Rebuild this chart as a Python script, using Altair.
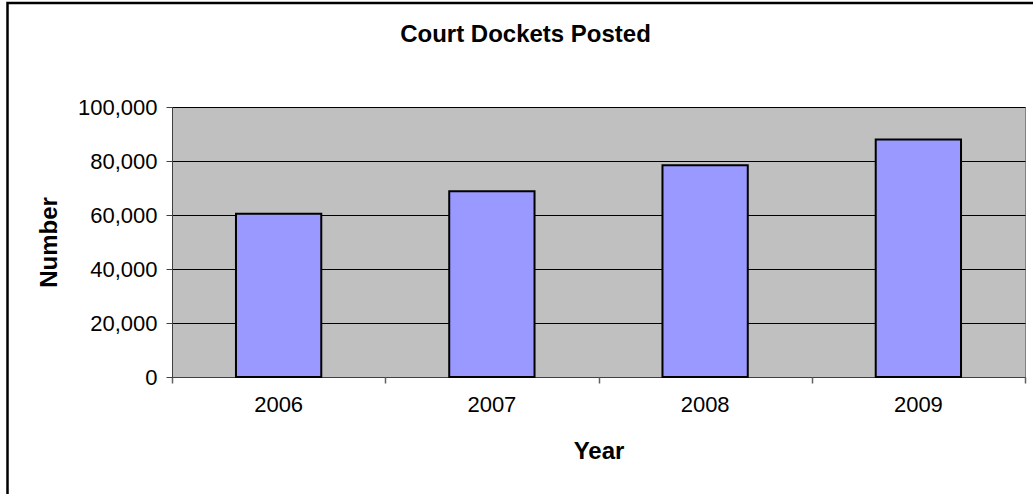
import altair as alt
import pandas as pd

years = ["2006", "2007", "2008", "2009"]
dockets = [60500, 68800, 78400, 88000]
y_ticks = [0, 20000, 40000, 60000, 80000, 100000]
category_edges = [0, 1, 2, 3, 4]

df = pd.DataFrame({"Year": years, "Number": dockets})

FONT = "Liberation Sans, Arial, sans-serif"

frame = alt.Chart(pd.DataFrame({"k": [0]})).mark_rect(
    fill=None, stroke="black", strokeWidth=2.5
).encode(
    x=alt.value(-164.5), x2=alt.value(2000),
    y=alt.value(-104), y2=alt.value(2000)
)

bars = alt.Chart(df).mark_bar(
    color="#9999FF", stroke="black", strokeWidth=2
).encode(
    x=alt.X("Year:N", sort=years,
            scale=alt.Scale(paddingInner=0.6, paddingOuter=0.3),
            axis=alt.Axis(title="Year", labelAngle=0, ticks=False,
                          labelFontSize=22, labelFont=FONT, labelColor="black",
                          labelPadding=17, domainColor="#404040", grid=False,
                          titleFontSize=24, titleFont=FONT, titleFontWeight="bold",
                          titleColor="black", titleY=74, titleBaseline="middle")),
    y=alt.Y("Number:Q",
            scale=alt.Scale(domain=[0, 100000], nice=False),
            axis=alt.Axis(title="Number", values=y_ticks, format=",d",
                          labelFontSize=22, labelFont=FONT, labelColor="black",
                          labelPadding=9, tickSize=6, tickColor="#404040",
                          domainColor="#404040", grid=True, gridColor="black",
                          gridOpacity=1, gridWidth=1,
                          titleFontSize=24, titleFont=FONT, titleFontWeight="bold",
                          titleColor="black", titleAngle=-90, titleX=-123,
                          titleY=135, titleAlign="center", titleBaseline="middle"))
)

edge_ticks = alt.Chart(pd.DataFrame({"edge": category_edges})).mark_point(
    opacity=0
).encode(
    x=alt.X("edge:Q",
            scale=alt.Scale(domain=[0, len(years)], nice=False, zero=False),
            axis=alt.Axis(orient="bottom", values=category_edges, labels=False,
                          title=None, domain=False, grid=False, tickSize=6,
                          tickColor="#606060", tickWidth=1.5))
)

chart = alt.layer(frame, bars, edge_ticks).resolve_scale(
    x="independent"
).resolve_axis(
    x="independent"
).properties(
    width=853, height=270,
    title=alt.TitleParams("Court Dockets Posted", fontSize=24, font=FONT,
                          fontWeight="bold", color="black", anchor="middle",
                          dx=-73, dy=49),
    autosize=alt.AutoSizeParams(type="none"),
    padding={"left": 172, "top": 107, "right": 8, "bottom": 117},
    background="white"
).configure_view(
    fill="#C0C0C0", stroke="#808080", strokeWidth=1
)

chart.save("out.html", embed_options={"renderer": "svg", "actions": False})
